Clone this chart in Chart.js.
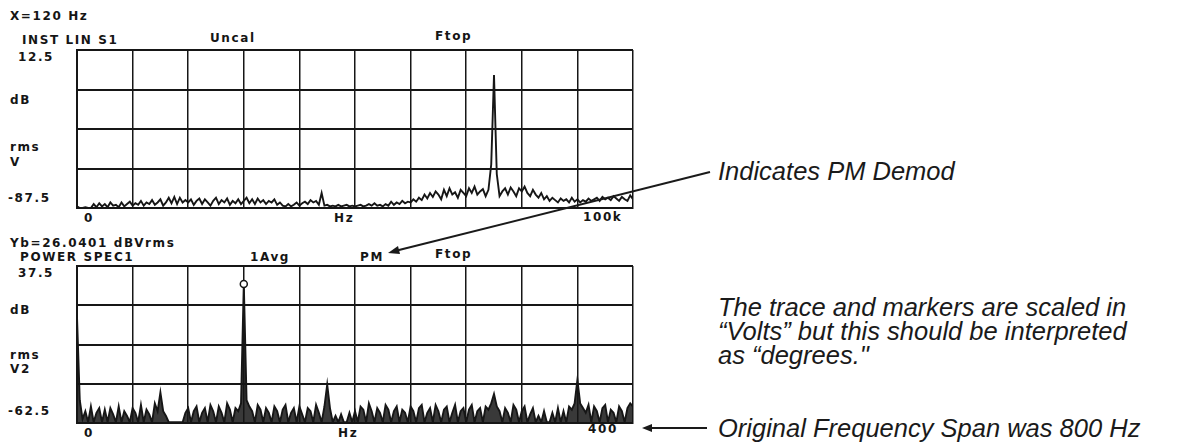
<!DOCTYPE html>
<html>
<head>
<meta charset="utf-8">
<script src="https://cdn.jsdelivr.net/npm/chart.js@4/dist/chart.umd.min.js"></script>
<style>
  body{margin:0;background:#fff;width:1183px;height:443px;position:relative;overflow:hidden;}
  canvas{position:absolute;}
  .t{position:absolute;font:bold 12px "DejaVu Sans",sans-serif;letter-spacing:1.6px;color:#151515;white-space:nowrap;line-height:1;}
  .n{position:absolute;font:italic 25.5px "Liberation Sans",Arial,sans-serif;color:#1a1a1a;white-space:nowrap;line-height:24px;}
  svg{position:absolute;left:0;top:0;}
</style>
</head>
<body>
<!-- upper trace: INST LIN S1, 0..100k Hz -->
<div class="t" style="left:10px;top:10px">X=120 Hz</div>
<div class="t" style="left:22px;top:34px">INST LIN S1</div>
<div class="t" style="left:210px;top:32px">Uncal</div>
<div class="t" style="left:435px;top:30px">Ftop</div>
<div class="t" style="left:18px;top:51px">12.5</div>
<div class="t" style="left:10px;top:94px">dB</div>
<div class="t" style="left:10px;top:141px">rms</div>
<div class="t" style="left:10px;top:156px">V</div>
<div class="t" style="left:8px;top:192px">-87.5</div>
<div class="t" style="left:84px;top:212px">0</div>
<div class="t" style="left:334px;top:212px">Hz</div>
<div class="t" style="left:583px;top:211px">100k</div>
<canvas id="top" width="566" height="168" style="left:72px;top:45px"></canvas>

<!-- lower trace: POWER SPEC1, 0..400 Hz -->
<div class="t" style="left:10px;top:237px">Yb=26.0401 dBVrms</div>
<div class="t" style="left:20px;top:251px">POWER SPEC1</div>
<div class="t" style="left:250px;top:251px">1Avg</div>
<div class="t" style="left:360px;top:251px">PM</div>
<div class="t" style="left:435px;top:248px">Ftop</div>
<div class="t" style="left:18px;top:267px">37.5</div>
<div class="t" style="left:10px;top:304px">dB</div>
<div class="t" style="left:10px;top:349px">rms</div>
<div class="t" style="left:10px;top:363px">V2</div>
<div class="t" style="left:8px;top:405px">-62.5</div>
<div class="t" style="left:84px;top:427px">0</div>
<div class="t" style="left:338px;top:427px">Hz</div>
<div class="t" style="left:588px;top:423px">400</div>
<canvas id="bot" width="566" height="167" style="left:72px;top:261px"></canvas>

<!-- notes -->
<div class="n" style="left:718px;top:159px">Indicates PM Demod</div>
<div class="n" style="left:718px;top:295px">The trace and markers are scaled in<br>“Volts” but this should be interpreted<br>as “degrees."</div>
<div class="n" style="left:718px;top:416px">Original Frequency Span was 800 Hz</div>

<svg width="1183" height="443">
  <line x1="710" y1="172" x2="395" y2="251" stroke="#1a1a1a" stroke-width="2"/>
  <polygon points="388,253 398,246 400,254" fill="#1a1a1a"/>
  <line x1="707" y1="428" x2="650" y2="428" stroke="#1a1a1a" stroke-width="2"/>
  <polygon points="642,428 652,424 652,432" fill="#1a1a1a"/>
</svg>

<script>
// upper trace, 0..100 kHz in 500 Hz bins, dB
const topStep = 500;
const topVals = [
  -86.5,-87.5,-87.5,-87,-87.5,-87.5,-85,-87,-84.5,-86.5,-85,-87,-84,-86,-85.5,-87,-84,-86.5,-85,-83.5,
  -86,-84.5,-85.5,-83,-86,-84,-85,-82.5,-85.5,-84,-82,-86,-84,-81,-84.5,-80.5,-85,-81,-84,-82.5,
  -84,-82,-85.5,-83,-81.5,-85,-82,-84,-86,-83,-81,-85,-82.5,-84,-81.5,-85.5,-83,-84.5,-82,-85,
  -83,-81,-84.5,-82,-85,-81.5,-84,-82.5,-85,-83,-84,-82,-85.5,-84,-86,-86.5,-85,-86.5,-85.5,-84,
  -86,-84.5,-83.5,-85,-82.5,-84,-83,-85.5,-78,-86,-85.5,-86.5,-86,-86.5,-85.5,-86.5,-86,-85.5,-86.5,-86,
  -86.5,-86,-85.5,-86.5,-86,-85,-86,-84.5,-86,-85.5,-86.5,-85,-86,-83.5,-85.5,-84,-85,-83,-84.5,-83.5,
  -84,-82,-83.5,-81,-82.5,-79,-81.5,-78,-80.5,-77,-79,-82,-76,-80,-75,-79,-77.5,-81,-76,-78,
  -80,-75,-78,-74,-79,-77,-75.5,-80,-76,-60,-3.3,-66,-80,-77,-75,-79,-74.5,-77,-80,-75,
  -77,-74,-78,-80,-76,-79,-81,-78,-82,-80,-83,-81,-82.5,-84,-81.5,-83,-82,-84,-81,-83.5,
  -82,-84,-82.5,-83.5,-81.5,-83,-82,-81,-83,-80.5,-82,-81,-82.5,-80,-81.5,-83,-80.5,-82,-83,-79.5,
  -82
];
const topYMin = -87.5, topYMax = 12.5, topXMax = 100000;

// lower trace, 0..400 Hz in 2 Hz bins, dB
const botStep = 2;
const botVals = [
  5,-48,-60,-55,-62,-52,-62,-56,-53,-62,
  -54,-62,-53,-57,-62,-52,-62,-55,-58,-62,
  -53,-56,-62,-51,-62,-54,-57,-62,-50,-55,
  -43,-55,-58,-62,-62,-62,-62,-62,-62,-56,
  -53,-62,-55,-52,-62,-56,-53,-62,-51,-55,
  -62,-52,-56,-62,-50,-54,-62,-53,-55,-50,
  26.04,-48,-52,-55,-62,-51,-54,-62,-53,-56,
  -62,-52,-55,-62,-54,-51,-62,-56,-53,-62,
  -52,-57,-62,-53,-55,-62,-51,-56,-62,-52,
  -38,-53,-62,-58,-62,-57,-62,-62,-56,-62,
  -55,-62,-52,-54,-62,-50,-55,-62,-53,-56,
  -62,-51,-54,-62,-55,-52,-62,-54,-56,-62,
  -52,-55,-62,-53,-51,-62,-56,-53,-62,-51,
  -55,-62,-54,-52,-62,-56,-51,-62,-55,-53,
  -62,-54,-51,-62,-55,-53,-62,-52,-54,-50,
  -44,-52,-55,-62,-53,-56,-62,-51,-54,-62,
  -55,-52,-62,-57,-53,-62,-58,-62,-55,-62,
  -62,-56,-62,-53,-62,-55,-62,-52,-54,-50,
  -35,-50,-53,-56,-51,-62,-52,-55,-62,-53,
  -51,-62,-54,-56,-62,-52,-55,-62,-53,-50,
  -52
];
const botYMin = -62.5, botYMax = 37.5, botXMax = 400;
const markerHz = 120;

const ink = '#161616';

function spectrum(id, vals, step, xMax, yMin, yMax, markerAt, filled){
  const pts = vals.map((v,i)=>({x:i*step, y:v}));
  new Chart(document.getElementById(id), {
    type:'line',
    data:{datasets:[{
      data:pts,
      borderColor:ink,
      borderWidth:1.9,
      tension:0,
      fill: filled ? 'start' : false,
      backgroundColor:'rgba(22,22,22,0.85)',
      pointRadius:(c)=> (markerAt!=null && pts[c.dataIndex] && pts[c.dataIndex].x===markerAt) ? 3.5 : 0,
      pointBackgroundColor:'#fff',
      pointBorderColor:ink,
      pointBorderWidth:1.5
    }]},
    options:{
      responsive:false,
      animation:false,
      layout:{padding:5},
      plugins:{legend:{display:false},tooltip:{enabled:false}},
      scales:{
        x:{type:'linear',min:0,max:xMax,
           ticks:{display:false,stepSize:xMax/10},
           grid:{color:ink,lineWidth:1.5,drawTicks:false},
           border:{color:ink,width:2}},
        y:{min:yMin,max:yMax,
           ticks:{display:false,stepSize:25},
           grid:{color:ink,lineWidth:2,drawTicks:false},
           border:{color:ink,width:2}}
      }
    }
  });
}

spectrum('top', topVals, topStep, topXMax, topYMin, topYMax, null, false);
spectrum('bot', botVals, botStep, botXMax, botYMin, botYMax, markerHz, true);
</script>
</body>
</html>
